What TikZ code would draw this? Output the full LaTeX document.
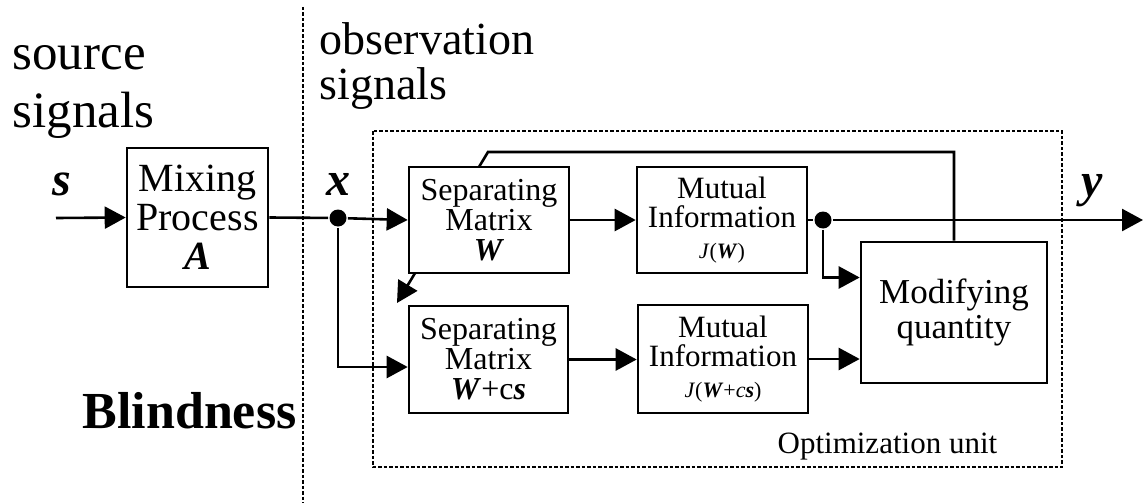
\documentclass[tikz,border=0pt]{standalone}
\usepackage{fontspec}
\setmainfont{Liberation Serif}
\usetikzlibrary{arrows.meta}

\begin{document}
\begin{tikzpicture}[x=1pt, y=-1pt, line width=2.6pt,
    box/.style={draw, fill=white, inner sep=0pt, align=center},
    dot/.style={circle, fill, inner sep=0pt, minimum size=17pt},
    arr/.style={-{Triangle[length=21pt,width=22pt]}},
    dots/.style={line width=2.4pt, dash pattern=on 3.5pt off 2pt},
    sig/.style={anchor=base, font=\fontsize{48}{48}\selectfont\bfseries\itshape}]
    \useasboundingbox (0,0) rectangle (1145,503);
    % Divider and optimization unit
    \draw[dots] (303,7) -- (303,503);
    \draw[dots] (373,131) rectangle (1062,467);
    \node[anchor=base west, font=\fontsize{31}{31}\selectfont] (opt) at (773,453) {Optimization unit};
    % Texts (base is the last line)
    \node[anchor=base west, align=left, font=\fontsize{51}{58}\selectfont] (src) at (8,127) {source\\signals};
    \node[anchor=base west, align=left, font=\fontsize{46}{44}\selectfont] (obs) at (315,99) {observation\\signals};
    \node[anchor=base west, font=\fontsize{52}{52}\selectfont\bfseries] (blind) at (78,428) {Blindness};
    \node[sig] (slab) at (62,195) {s};
    \node[sig] (xlab) at (338,195) {x};
    \node[sig] (ylab) at (1092,196) {y};
    % Blocks
    \node[box, minimum width=141pt, minimum height=139pt, font=\fontsize{40}{39}\selectfont] (mix) at (197.5,217.5) {Mixing\\Process\\\textbf{\textit{A}}};
    \node[box, minimum width=186pt, minimum height=141pt, font=\fontsize{35}{35}\selectfont] (mod) at (954,312.5) {Modifying\\quantity};
    % Feedback to the separating matrix
    \coordinate (fb) at (488,152);
    \coordinate (fbtip) at (397,303);
    \draw[arr] (mod.north) |- (fb) -- (fbtip);
    \node[box, minimum width=160pt, minimum height=106pt, font=\fontsize{32}{30}\selectfont] (sepW) at (489,220) {Separating\\Matrix\\\textbf{\textit{W}}};
    \node[box, minimum width=170pt, minimum height=106pt, font=\fontsize{31}{28.5}\selectfont] (miW) at (722,220) {Mutual\\Information\\[2.5pt]{\fontsize{22}{22}\selectfont\textit{J}(\textbf{\textit{W}})}};
    \node[box, minimum width=159pt, minimum height=107pt, font=\fontsize{32}{30}\selectfont] (sepL) at (488.5,359.5) {Separating\\Matrix\\\textbf{\textit{W}}+c\textbf{\textit{s}}};
    \node[box, minimum width=170pt, minimum height=108pt, font=\fontsize{31}{28.5}\selectfont] (miL) at (723,359) {Mutual\\Information\\[2.5pt]{\fontsize{22}{22}\selectfont\textit{J}(\textbf{\textit{W}}+\textit{c}\textbf{\textit{s}})}};
    % Signal path
    \coordinate (sin) at (56,218);
    \coordinate (yout) at (1143,220);
    \node[dot] (xdot) at (338,218) {};
    \node[dot] (ydot) at (823,220) {};
    \draw[arr] (sin) -- (mix.west);
    \draw (mix.east) -- (xdot);
    \draw[arr] (xdot) -- (sepW.west);
    \draw[arr] (xdot) |- ([yshift=-7.5pt]sepL.west);
    \draw[arr] (sepW.east) -- (miW.west);
    \draw[arr] (sepL.east) -- (sepL.east -| miL.west);
    \draw (miW.east) -- (ydot);
    \draw[arr] (ydot) -- (yout);
    \draw[arr] (ydot) |- ([yshift=35pt]mod.west);
    \draw[arr] (miL.east) -- (miL.east -| mod.west);
\end{tikzpicture}
\end{document}
